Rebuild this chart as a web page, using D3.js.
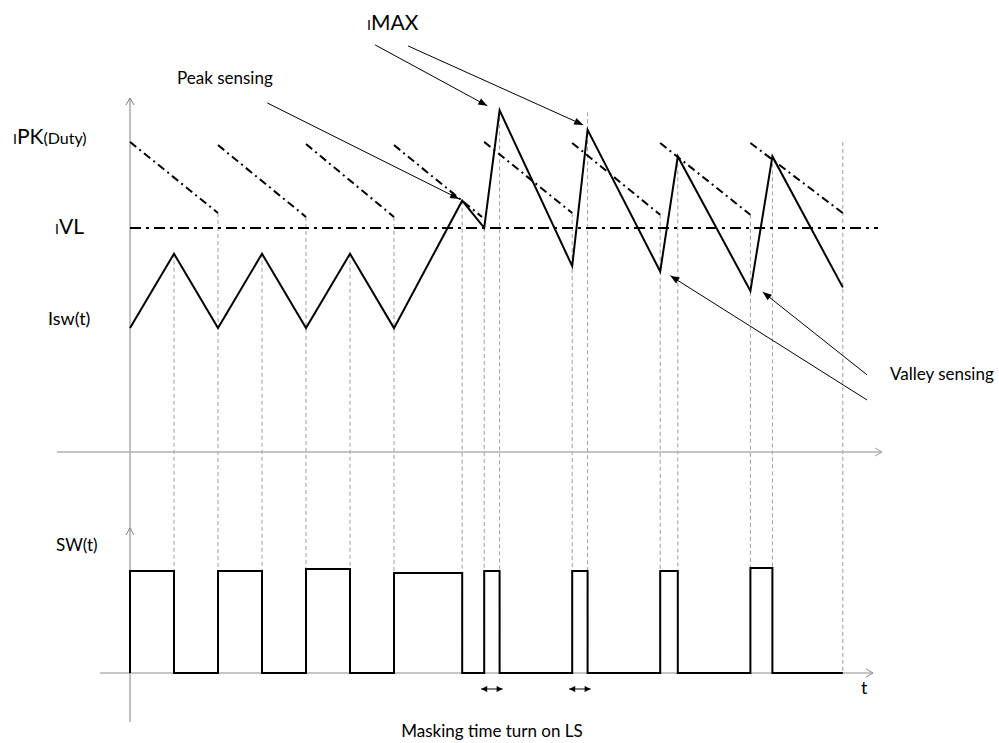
<!DOCTYPE html>
<html lang="en">
<head>
<meta charset="UTF-8">
<title>Peak / valley current sensing</title>
<script src="https://cdn.jsdelivr.net/npm/d3@7"></script>
<style>
    body { margin: 0; background: #fff; }
    svg { display: block; font-family: Lato, "Open Sans", sans-serif; }
    .guide { stroke: #9c9c9c; stroke-width: 1; stroke-dasharray: 4,3; fill: none; }
    .wave { stroke: #000; stroke-width: 2; fill: none; stroke-linejoin: miter; }
    .dashdot { stroke: #000; stroke-width: 2; stroke-dasharray: 8,4,2,4; fill: none; }
    .valley { stroke: #000; stroke-width: 2; stroke-dasharray: 11,5,3,5; fill: none; }
    .note { stroke: #000; stroke-width: 1; fill: none; }
    .head { fill: #000; stroke: none; }
    text { fill: #000; }
</style>
</head>
<body>
<div id="graphArea"></div>
<script>
// time in half switching periods, current in arbitrary units
let iswT = [0, 1, 2, 3, 4, 5, 6, 7.55, 8.05, 8.4, 10.05, 10.4, 12.05, 12.45, 14.1, 14.6, 16.2]
let iswI = [3.5, 5.6, 3.5, 5.6, 3.5, 5.6, 3.5, 7.1, 6.33, 9.65, 5.25, 9.1, 5.1, 8.35, 4.55, 8.35, 4.65]

// IPK(Duty) slope-compensated peak limit, one segment per period
let peakStartT = [0, 2, 4, 6, 8.05, 10.05, 12.05, 14.1]
let peakEndT = [2, 4, 6, 8, 10.05, 12.05, 14.1, 16.2]
let peakStartI = [8.76, 8.67, 8.7, 8.67, 8.76, 8.73, 8.73, 8.73]
let peakEndI = [6.75, 6.64, 6.64, 6.64, 6.75, 6.7, 6.7, 6.75]

let valleyI = 6.33
let valleyEndT = 17

// SW(t) high-side on intervals
let swOnT = [0, 2, 4, 6, 8.05, 10.05, 12.05, 14.1]
let swOffT = [1, 3, 5, 7.55, 8.4, 10.4, 12.45, 14.6]
let swHigh = [1, 1, 1.02, 0.98, 1, 1, 1, 1.03]
let swEndT = 16.2

// dashed guides at every switching instant
let guideT = [1, 2, 3, 4, 5, 6, 7.55, 8.05, 8.4, 10.05, 10.4, 12.05, 12.45, 14.1, 14.6, 16.2]
let guideTopI = [5.6, 6.75, 5.6, 6.64, 5.6, 6.64, 7.1, 6.33, 9.65, 6.75, 9.6, 6.7, 8.35, 6.7, 8.35, 8.76]

// masking time intervals
let maskStartT = [8.05, 10.05]
let maskEndT = [8.4, 10.4]

// annotation arrows [t0, i0, t1, i1]
let noteArrows = [
    [3.12, 9.86, 7.48, 7.15],   // Peak sensing
    [5.57, 11.5, 8.12, 9.78],   // IMAX 1
    [6.32, 11.47, 10.3, 9.24],  // IMAX 2
    [16.75, 1.47, 12.28, 4.98], // Valley sensing 1
    [16.75, 2.18, 14.38, 4.52]  // Valley sensing 2
]

let width = 999, height = 743

let x = d3.scaleLinear().domain([0, 17]).range([130, 878])
let yI = d3.scaleLinear().domain([0, 10]).range([452, 98])
let ySW = d3.scaleLinear().domain([0, 1]).range([673, 571])

let svg = d3.select('#graphArea').append('svg')
    .attr('width', width)
    .attr('height', height)

// guides
svg.append('g').selectAll('line')
    .data(guideT)
    .enter()
    .append('line')
    .attr('class', 'guide')
    .attr('x1', d => x(d))
    .attr('x2', d => x(d))
    .attr('y1', (d, i) => yI(guideTopI[i]))
    .attr('y2', ySW(0))

// axes
let axes = svg.append('g')
axes.append('line')
    .attr('x1', x(0)).attr('x2', x(0))
    .attr('y1', yI(10)).attr('y2', 722)
    .attr('stroke', '#808080').attr('stroke-width', 1)
axes.append('line')
    .attr('x1', 57).attr('x2', 882)
    .attr('y1', yI(0)).attr('y2', yI(0))
    .attr('stroke', '#b0b0b0').attr('stroke-width', 1.5)
axes.append('line')
    .attr('x1', 100).attr('x2', 873)
    .attr('y1', ySW(0)).attr('y2', ySW(0))
    .attr('stroke', '#8c8c8c').attr('stroke-width', 1)

let chevUp = (cx, cy) => `M${cx - 4},${cy + 7}L${cx},${cy}L${cx + 4},${cy + 7}`
let chevRight = (cx, cy) => `M${cx - 7},${cy - 4}L${cx},${cy}L${cx - 7},${cy + 4}`
axes.append('path').attr('d', chevUp(x(0), yI(10))).attr('stroke', '#808080').attr('fill', 'none')
axes.append('path').attr('d', chevUp(x(0), 528)).attr('stroke', '#808080').attr('fill', 'none')
axes.append('path').attr('d', chevRight(882, yI(0))).attr('stroke', '#a0a0a0').attr('fill', 'none')
axes.append('path').attr('d', chevRight(873, ySW(0))).attr('stroke', '#8c8c8c').attr('fill', 'none')

// valley limit
svg.append('line')
    .attr('class', 'valley')
    .attr('x1', x(0)).attr('x2', x(valleyEndT))
    .attr('y1', yI(valleyI)).attr('y2', yI(valleyI))

// peak limit segments
svg.append('g').selectAll('line')
    .data(peakStartT)
    .enter()
    .append('line')
    .attr('class', 'dashdot')
    .attr('x1', d => x(d))
    .attr('y1', (d, i) => yI(peakStartI[i]))
    .attr('x2', (d, i) => x(peakEndT[i]))
    .attr('y2', (d, i) => yI(peakEndI[i]))

// inductor current
let line = d3.line().x(d => x(d[0])).y(d => yI(d[1]))
svg.append('path')
    .attr('class', 'wave')
    .attr('d', line(iswT.map((t, i) => [t, iswI[i]])))

// switch node
let swPts = [[0, 0]]
swOnT.forEach((t, i) => {
    swPts.push([t, 0], [t, swHigh[i]], [swOffT[i], swHigh[i]], [swOffT[i], 0])
})
swPts.push([swEndT, 0])
let swLine = d3.line().x(d => x(d[0])).y(d => ySW(d[1]))
svg.append('path')
    .attr('class', 'wave')
    .attr('d', swLine(swPts))

// arrowhead helper
function arrowHead(g, x0, y0, x1, y1, len, half) {
    let a = Math.atan2(y1 - y0, x1 - x0)
    let bx = x1 - len * Math.cos(a), by = y1 - len * Math.sin(a)
    let px = -Math.sin(a) * half, py = Math.cos(a) * half
    g.append('path')
        .attr('class', 'head')
        .attr('d', `M${x1},${y1}L${bx + px},${by + py}L${bx - px},${by - py}Z`)
}

let notes = svg.append('g')
noteArrows.forEach(d => {
    let x0 = x(d[0]), y0 = yI(d[1]), x1 = x(d[2]), y1 = yI(d[3])
    notes.append('line').attr('class', 'note')
        .attr('x1', x0).attr('y1', y0).attr('x2', x1).attr('y2', y1)
    arrowHead(notes, x0, y0, x1, y1, 9, 3.5)
})

// masking time arrows
let maskY = 689
maskStartT.forEach((t, i) => {
    let x0 = x(t) - 3, x1 = x(maskEndT[i]) + 3
    notes.append('line').attr('class', 'note').attr('stroke-width', 1.5)
        .attr('x1', x0).attr('x2', x1).attr('y1', maskY).attr('y2', maskY)
    arrowHead(notes, x1, maskY, x0, maskY, 6, 3)
    arrowHead(notes, x0, maskY, x1, maskY, 6, 3)
})

// labels
let labels = svg.append('g')
function label(tx, ty, parts) {
    let t = labels.append('text').attr('x', tx).attr('y', ty)
    parts.forEach(p => t.append('tspan').attr('font-size', p[1]).text(p[0]))
    return t
}
label(13, 144, [['I', 14], ['PK', 21], ['(Duty)', 16]])
label(55, 234, [['I', 14], ['VL', 21]])
label(48, 325, [['Isw(t)', 18]])
label(56, 551, [['SW(t)', 17]])
label(177, 84, [['Peak sensing', 17]])
label(367, 30, [['I', 14], ['MAX', 21]])
label(890, 380, [['Valley sensing', 17]])
label(861, 694, [['t', 18]])
label(492, 737, [['Masking time turn on LS', 17]]).attr('text-anchor', 'middle')
</script>
</body>
</html>
